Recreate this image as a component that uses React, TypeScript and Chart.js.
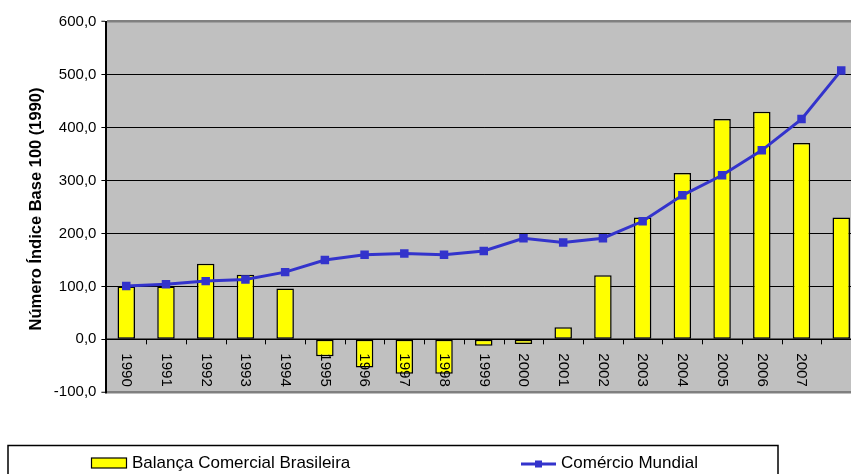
import React, { useEffect, useRef } from "react";
import { Chart, registerables } from "chart.js";

Chart.register(...registerables);

const categories = ["1990", "1991", "1992", "1993", "1994", "1995", "1996", "1997", "1998", "1999", "2000", "2001", "2002", "2003", "2004", "2005", "2006", "2007", ""];
const balanca = [100, 100, 143, 122, 96, -32, -53, -65, -65, -12, -9, 23, 121, 230, 314, 416, 430, 371, 230];
const comercio = [101, 104, 110, 113, 127, 150, 160, 162, 160, 167, 191, 183, 191, 223, 272, 310, 357, 416, 508];
const yTitle = "Número Índice Base 100 (1990)";
const serieNames = ["Balança Comercial Brasileira", "Comércio Mundial"];

const FONT = "'Liberation Sans', Arial, sans-serif";

const customPlugin = {
  id: "custom",
  beforeDraw(chart: any) {
    const { ctx, chartArea } = chart;
    ctx.save();
    ctx.fillStyle = "#C0C0C0";
    ctx.fillRect(chartArea.left, chartArea.top, chartArea.right - chartArea.left, chartArea.bottom - chartArea.top);
    ctx.restore();
  },
  afterDatasetsDraw(chart: any) {
    const { ctx } = chart;
    const xs = chart.scales.x;
    const ys = chart.scales.y;
    const zero = ys.getPixelForValue(0);
    ctx.save();
    ctx.strokeStyle = "#000";
    ctx.lineWidth = 1.5;
    ctx.beginPath();
    ctx.moveTo(chart.chartArea.left, zero);
    ctx.lineTo(chart.chartArea.right, zero);
    ctx.stroke();
    ctx.lineWidth = 1;
    const n = categories.length;
    for (let i = 0; i < n; i++) {
      const c = xs.getPixelForValue(i);
      const next = i < n - 1 ? xs.getPixelForValue(i + 1) : c + (c - xs.getPixelForValue(i - 1));
      const b = Math.round((c + next) / 2) + 0.5;
      ctx.beginPath();
      ctx.moveTo(b, zero);
      ctx.lineTo(b, zero + 5);
      ctx.stroke();
    }
    ctx.fillStyle = "#000";
    ctx.font = `15px ${FONT}`;
    ctx.textAlign = "left";
    ctx.textBaseline = "middle";
    categories.forEach((lab, i) => {
      const x = xs.getPixelForValue(i);
      ctx.save();
      ctx.translate(x, zero + 14);
      ctx.rotate(Math.PI / 2);
      ctx.fillText(lab, 0, 0);
      ctx.restore();
    });
    ctx.restore();
  },
  afterDraw(chart: any) {
    const { ctx } = chart;
    ctx.save();
    ctx.fillStyle = "#000";
    ctx.font = `bold 16.5px ${FONT}`;
    ctx.textAlign = "center";
    ctx.textBaseline = "middle";
    ctx.translate(36, 209);
    ctx.rotate(-Math.PI / 2);
    ctx.fillText(yTitle, 0, 0);
    ctx.restore();

    ctx.save();
    ctx.strokeStyle = "#000";
    ctx.lineWidth = 1.5;
    ctx.strokeRect(8, 445.5, 770, 60);
    const ds0 = chart.data.datasets[0];
    const ds1 = chart.data.datasets[1];
    ctx.fillStyle = ds0.backgroundColor;
    ctx.fillRect(91.5, 458, 35, 10);
    ctx.lineWidth = 1.2;
    ctx.strokeRect(91.5, 458, 35, 10);
    ctx.fillStyle = "#000";
    ctx.font = `17px ${FONT}`;
    ctx.textAlign = "left";
    ctx.textBaseline = "middle";
    ctx.fillText(ds0.label, 132, 463);
    ctx.strokeStyle = ds1.borderColor;
    ctx.lineWidth = 3;
    ctx.beginPath();
    ctx.moveTo(521, 464);
    ctx.lineTo(556, 464);
    ctx.stroke();
    ctx.fillStyle = ds1.borderColor;
    ctx.fillRect(535, 460.5, 7, 7);
    ctx.fillStyle = "#000";
    ctx.fillText(ds1.label, 561, 463);
    ctx.restore();
  },
};

export default function App() {
  const ref = useRef<HTMLCanvasElement | null>(null);
  useEffect(() => {
    if (!ref.current) return;
    const chart = new Chart(ref.current, {
      type: "bar",
      data: {
        labels: categories,
        datasets: [
          {
            type: "bar",
            label: serieNames[0],
            data: balanca,
            backgroundColor: "#FFFF00",
            borderColor: "#000000",
            borderWidth: 1.5,
            borderSkipped: false,
            barPercentage: 0.44,
            categoryPercentage: 1,
            order: 1,
          },
          {
            type: "line",
            label: serieNames[1],
            data: comercio,
            borderColor: "#3333CC",
            backgroundColor: "#3333CC",
            borderWidth: 3,
            pointStyle: "rect",
            pointRadius: 6,
            pointBorderWidth: 0,
            tension: 0,
            order: 0,
          },
        ] as any,
      },
      options: {
        animation: false,
        responsive: false,
        devicePixelRatio: 1,
        layout: { padding: { left: 0, top: 21.7, right: 18.9, bottom: 81.7 } },
        plugins: { legend: { display: false }, tooltip: { enabled: false } },
        scales: {
          x: { display: false, offset: true },
          y: {
            min: -100,
            max: 600,
            afterFit: (s: any) => {
              s.width = 106.4;
            },
            ticks: {
              stepSize: 100,
              color: "#000",
              padding: 5,
              font: { family: FONT, size: 15 },
              callback: (v: any) => Number(v).toFixed(1).replace(".", ","),
            },
            grid: {
              color: (c: any) => (c.tick && (c.tick.value === 600 || c.tick.value === -100) ? "#808080" : "#000"),
              lineWidth: (c: any) => (c.tick && (c.tick.value === 600 || c.tick.value === -100) ? 2.5 : 1),
              tickColor: "#000",
              tickWidth: 1,
              tickLength: 5,
              drawTicks: true,
            },
            border: { display: true, color: "#000", width: 2 },
          },
        },
      } as any,
      plugins: [customPlugin],
    });
    return () => chart.destroy();
  }, []);
  return (
    <div style={{ width: 851, height: 474, overflow: "hidden", position: "relative" }}>
      <style>{"html,body{margin:0;padding:0;overflow:hidden;background:#fff}"}</style>
      <canvas ref={ref} width={880} height={474} style={{ display: "block", width: 880, height: 474 }} />
    </div>
  );
}
